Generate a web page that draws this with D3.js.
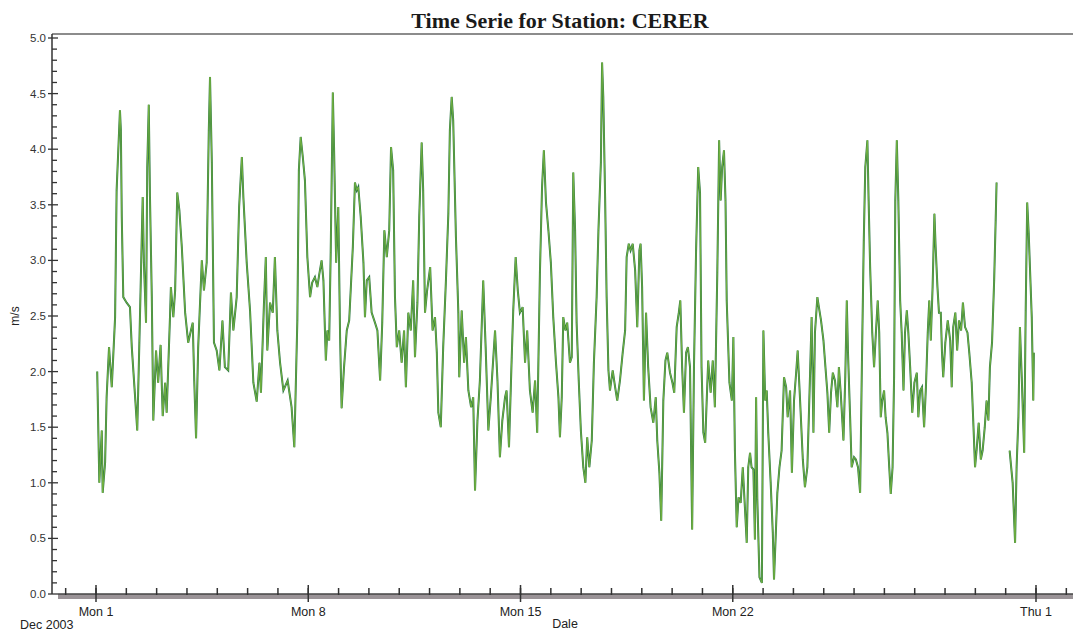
<!DOCTYPE html>
<meta charset="utf-8">
<html>
<head>
<title>Time Serie for Station: CERER</title>
<script src="https://d3js.org/d3.v7.min.js"></script>
<style>
    body {
        margin: 0;
        background: #fff;
        font-family: "Liberation Sans", Arial, sans-serif;
    }
</style>
</head>
<body>
<svg id="chart"></svg>
<script>

var width = 1073
var height = 632

// readings, days after 1 Dec 2003 00:00 UTC, and wind speed in m/s (null = gap)
var days = [
    0.04, 0.11, 0.19, 0.22, 0.30, 0.35, 0.43, 0.52, 0.63, 0.68, 0.79, 0.82, 0.85, 0.90, 1.01, 1.12, 1.18, 1.29, 1.36, 1.43,
    1.54, 1.58, 1.65, 1.69, 1.74, 1.78, 1.84, 1.89, 1.98, 2.05, 2.13, 2.20, 2.28, 2.33, 2.44, 2.47, 2.55, 2.61, 2.68, 2.75,
    2.83, 2.94, 3.04, 3.13, 3.19, 3.24, 3.30, 3.37, 3.49, 3.56, 3.65, 3.72, 3.76, 3.82, 3.89, 3.98, 4.07, 4.17, 4.25, 4.36,
    4.45, 4.53, 4.64, 4.72, 4.81, 4.86, 4.97, 5.08, 5.19, 5.30, 5.39, 5.44, 5.54, 5.60, 5.65, 5.74, 5.83, 5.90, 5.98, 6.07,
    6.18, 6.32, 6.45, 6.54, 6.64, 6.69, 6.75, 6.82, 6.89, 6.97, 7.06, 7.13, 7.22, 7.30, 7.36, 7.44, 7.50, 7.58, 7.63, 7.69,
    7.74, 7.81, 7.85, 7.92, 7.99, 8.05, 8.10, 8.18, 8.27, 8.35, 8.47, 8.54, 8.60, 8.65, 8.73, 8.82, 8.87, 8.93, 9.01, 9.09,
    9.20, 9.28, 9.37, 9.44, 9.51, 9.59, 9.67, 9.73, 9.80, 9.86, 9.92, 10.00, 10.08, 10.16, 10.22, 10.30, 10.38, 10.46, 10.52, 10.60,
    10.66, 10.74, 10.79, 10.85, 10.92, 11.02, 11.10, 11.18, 11.24, 11.29, 11.37, 11.45, 11.54, 11.62, 11.67, 11.73, 11.78, 11.87, 11.95, 11.98,
    12.06, 12.14, 12.20, 12.28, 12.37, 12.44, 12.50, 12.58, 12.66, 12.77, 12.85, 12.94, 13.02, 13.16, 13.24, 13.32, 13.40, 13.49, 13.54, 13.62,
    13.71, 13.76, 13.84, 13.91, 13.98, 14.07, 14.15, 14.22, 14.31, 14.40, 14.48, 14.55, 14.64, 14.71, 14.77, 14.84, 14.92, 15.00, 15.08, 15.17,
    15.25, 15.30, 15.36, 15.41, 15.48, 15.54, 15.63, 15.69, 15.74, 15.80, 15.85, 15.92, 15.99, 16.07, 16.14, 16.20, 16.27, 16.35, 16.42, 16.51,
    16.57, 16.65, 16.69, 16.73, 16.79, 16.84, 16.90, 16.95, 17.04, 17.12, 17.19, 17.28, 17.37, 17.45, 17.50, 17.57, 17.63, 17.70, 17.78, 17.85,
    17.92, 17.96, 18.01, 18.07, 18.14, 18.21, 18.29, 18.38, 18.46, 18.51, 18.58, 18.64, 18.71, 18.78, 18.84, 18.93, 19.01, 19.07, 19.15, 19.22,
    19.27, 19.33, 19.39, 19.46, 19.52, 19.59, 19.66, 19.72, 19.79, 19.86, 19.92, 19.97, 20.03, 20.09, 20.14, 20.19, 20.27, 20.34, 20.41, 20.49,
    20.55, 20.60, 20.65, 20.71, 20.76, 20.80, 20.89, 20.97, 21.02, 21.07, 21.13, 21.19, 21.26, 21.33, 21.40, 21.46, 21.51, 21.57, 21.62, 21.68,
    21.73, 21.77, 21.81, 21.88, 21.96, 22.01, 22.07, 22.12, 22.17, 22.25, 22.32, 22.36, 22.42, 22.47, 22.54, 22.61, 22.69, 22.76, 22.81, 22.89,
    22.95, 23.02, 23.09, 23.14, 23.22, 23.31, 23.38, 23.46, 23.55, 23.60, 23.66, 23.71, 23.79, 23.84, 23.91, 23.99, 24.07, 24.12, 24.18, 24.24,
    24.30, 24.37, 24.45, 24.50, 24.56, 24.65, 24.71, 24.76, 24.80, 24.87, 24.92, 25.00, 25.06, 25.13, 25.20, 25.26, 25.32, 25.37, 25.44, 25.48,
    25.53, 25.60, 25.66, 25.72, 25.78, 25.83, 25.88, 25.93, 25.99, 26.04, 26.10, 26.16, 26.21, 26.27, 26.32, 26.36, 26.41, 26.46, 26.52, 26.57,
    26.63, 26.68, 26.74, 26.79, 26.85, 26.92, 26.99, 27.07, 27.12, 27.18, 27.24, 27.31, 27.37, 27.43, 27.48, 27.53, 27.59, 27.65, 27.69, 27.75,
    27.80, 27.86, 27.90, 27.94, 28.01, 28.09, 28.17, 28.22, 28.27, 28.34, 28.40, 28.46, 28.53, 28.59, 28.66, 28.74, 28.80, 28.88, 28.93, 28.99,
    29.04, 29.11, 29.18, 29.24, 29.31, 29.37, 29.43, 29.48, 29.55, 29.62, 29.67, 29.70, 29.90, 30.13, 30.23, 30.31, 30.36, 30.42, 30.47, 30.53,
    30.61, 30.66, 30.71, 30.76, 30.80, 30.86, 30.91, 30.93
]
var speed = [
    2.00, 1.00, 1.47, 0.91, 1.18, 1.77, 2.22, 1.86, 2.49, 3.63, 4.35, 4.17, 3.39, 2.67, 2.62, 2.58, 2.22, 1.77, 1.47, 2.26,
    3.57, 2.98, 2.44, 3.84, 4.40, 3.57, 2.67, 1.56, 2.19, 1.90, 2.24, 1.60, 1.90, 1.63, 2.49, 2.76, 2.49, 2.73, 3.61, 3.45,
    3.12, 2.53, 2.26, 2.37, 2.44, 1.92, 1.40, 2.22, 3.00, 2.73, 2.98, 4.17, 4.65, 3.88, 2.26, 2.19, 2.01, 2.46, 2.04, 2.01,
    2.71, 2.37, 2.67, 3.48, 3.93, 3.57, 2.98, 2.55, 1.90, 1.73, 2.08, 1.81, 2.62, 3.03, 2.19, 2.62, 2.53, 3.03, 2.37, 2.08,
    1.83, 1.92, 1.68, 1.32, 2.46, 3.81, 4.11, 3.93, 3.72, 3.03, 2.67, 2.80, 2.85, 2.76, 2.87, 3.00, 2.82, 2.10, 2.37, 2.28,
    3.07, 4.51, 4.02, 2.98, 3.48, 2.31, 1.67, 2.04, 2.37, 2.46, 3.12, 3.70, 3.63, 3.66, 3.39, 2.98, 2.49, 2.82, 2.85, 2.53,
    2.44, 2.37, 1.92, 2.44, 3.27, 3.03, 3.27, 4.02, 3.81, 2.67, 2.22, 2.37, 2.08, 2.37, 1.86, 2.53, 2.37, 2.82, 2.13, 2.62,
    3.39, 4.06, 3.63, 2.53, 2.73, 2.94, 2.37, 2.49, 2.17, 1.63, 1.50, 2.22, 2.82, 3.42, 4.17, 4.47, 4.26, 3.21, 2.53, 1.95,
    2.55, 2.08, 2.31, 1.83, 1.68, 1.77, 0.93, 1.56, 1.92, 2.82, 2.22, 1.47, 1.77, 2.37, 1.92, 1.23, 1.56, 1.77, 1.83, 1.32,
    2.13, 2.55, 3.03, 2.73, 2.53, 2.58, 2.08, 2.37, 1.83, 1.63, 1.92, 1.45, 2.89, 3.66, 3.99, 3.52, 3.27, 2.98, 2.49, 2.08,
    1.77, 1.41, 1.77, 2.49, 2.37, 2.44, 2.08, 2.13, 3.79, 3.27, 2.44, 1.92, 1.47, 1.14, 1.00, 1.41, 1.14, 1.38, 2.08, 2.67,
    3.27, 3.88, 4.78, 4.47, 3.57, 2.67, 2.01, 1.83, 2.01, 1.86, 1.74, 1.92, 2.17, 2.37, 3.03, 3.15, 3.09, 3.15, 2.91, 2.40,
    3.09, 3.15, 2.76, 1.74, 2.53, 2.04, 1.68, 1.54, 1.77, 1.38, 1.09, 0.66, 1.74, 2.10, 2.17, 1.99, 1.90, 1.81, 2.40, 2.53,
    2.64, 2.04, 1.63, 2.17, 2.22, 2.04, 0.58, 2.04, 3.09, 3.84, 3.61, 2.04, 1.45, 1.36, 1.74, 2.10, 1.81, 2.10, 1.68, 2.89,
    4.08, 3.54, 3.84, 3.99, 3.54, 2.64, 1.90, 1.74, 2.31, 1.29, 0.60, 0.87, 0.82, 1.14, 0.78, 0.46, 1.14, 1.27, 1.14, 1.12,
    0.49, 1.77, 0.85, 0.15, 0.10, 2.37, 1.74, 1.83, 1.45, 1.00, 0.55, 0.13, 0.55, 0.91, 1.14, 1.29, 1.95, 1.86, 1.59, 1.83,
    1.09, 1.74, 1.99, 2.19, 1.74, 1.21, 0.96, 1.14, 1.99, 2.49, 1.45, 2.35, 2.67, 2.58, 2.46, 2.28, 1.99, 1.81, 1.45, 1.81,
    1.99, 1.92, 1.68, 2.04, 1.81, 1.38, 1.95, 2.64, 2.17, 1.59, 1.14, 1.23, 1.21, 1.14, 0.91, 2.10, 3.18, 3.84, 4.08, 3.54,
    2.94, 2.35, 2.04, 2.35, 2.64, 2.35, 1.59, 1.74, 1.83, 1.59, 1.45, 1.14, 0.90, 1.14, 1.95, 3.54, 4.08, 3.54, 2.64, 2.35,
    1.83, 2.35, 2.55, 2.35, 2.04, 1.63, 1.90, 1.99, 1.59, 1.83, 1.86, 1.50, 1.86, 2.35, 2.64, 2.28, 2.76, 3.42, 3.12, 2.76,
    2.53, 2.53, 2.17, 1.95, 2.26, 2.46, 2.28, 1.86, 2.40, 2.53, 2.19, 2.46, 2.37, 2.62, 2.40, 2.35, 2.17, 1.90, 1.56, 1.14,
    1.29, 1.54, 1.21, 1.29, 1.50, 1.74, 1.56, 2.04, 2.26, 2.82, 3.36, 3.70, null, 1.29, 1.00, 0.46, 1.14, 1.59, 2.40, 1.95,
    1.27, 2.55, 3.52, 3.24, 2.94, 2.49, 1.74, 2.17
]

var yTicks = [0.0, 0.5, 1.0, 1.5, 2.0, 2.5, 3.0, 3.5, 4.0, 4.5, 5.0]
var majorDays = [0, 7, 14, 21, 31]   // Mon 1, Mon 8, Mon 15, Mon 22, Thu 1
var title = "Time Serie for Station: CERER"

var start = Date.UTC(2003, 11, 1)
var DAY = 86400000
var data = days.map((d, i) => ({date: new Date(start + d * DAY), v: speed[i]}))

var svg = d3.select("#chart")
    .attr("width", width)
    .attr("height", height)

var x = d3.scaleUtc()
    .domain([new Date(start), new Date(start + 31 * DAY)])
    .range([96, 1036])

var y = d3.scaleLinear()
    .domain([0, 5])
    .range([594, 38])

var axisLeft = 52
var xAxisLeft = 58

// title
svg.append("text")
    .attr("x", 560)
    .attr("y", 28)
    .attr("text-anchor", "middle")
    .style("font-family", "'Liberation Serif', 'Times New Roman', serif")
    .style("font-size", "22px")
    .style("font-weight", "bold")
    .style("fill", "#1a1a1a")
    .text(title)

// top frame line
svg.append("line")
    .attr("x1", axisLeft).attr("x2", width)
    .attr("y1", 34).attr("y2", 34)
    .style("stroke", "#666")
    .style("stroke-width", 1.6)

// y axis
var yg = svg.append("g")
yg.append("line")
    .attr("x1", axisLeft).attr("x2", axisLeft)
    .attr("y1", 34).attr("y2", y(0))
    .style("stroke", "#333")
    .style("stroke-width", 1.5)

var minor = d3.range(0, 50).map(i => i / 10).filter(v => Math.round(v * 10) % 5 != 0)
yg.selectAll(".ymin")
    .data(minor)
    .enter()
    .append("line")
    .attr("x1", axisLeft).attr("x2", axisLeft + 5)
    .attr("y1", d => y(d)).attr("y2", d => y(d))
    .style("stroke", "#333")
    .style("stroke-width", 1.3)

yg.selectAll(".ymaj")
    .data(yTicks)
    .enter()
    .append("line")
    .attr("x1", axisLeft - 4).attr("x2", axisLeft + 6)
    .attr("y1", d => y(d)).attr("y2", d => y(d))
    .style("stroke", "#333")
    .style("stroke-width", 1.3)

yg.selectAll(".ylab")
    .data(yTicks)
    .enter()
    .append("text")
    .attr("x", axisLeft - 6)
    .attr("y", d => y(d) + 4)
    .attr("text-anchor", "end")
    .style("font-size", "11.5px")
    .style("fill", "#333")
    .text(d => d3.format(".1f")(d))

svg.append("text")
    .attr("transform", "translate(19," + y(2.5) + ") rotate(-90)")
    .attr("text-anchor", "middle")
    .style("font-size", "12px")
    .style("fill", "#222")
    .text("m/s")

// x axis band
svg.append("rect")
    .attr("x", xAxisLeft).attr("y", y(0))
    .attr("width", width - xAxisLeft).attr("height", 5)
    .style("fill", "#9a9397")
svg.append("line")
    .attr("x1", xAxisLeft).attr("x2", width)
    .attr("y1", y(0)).attr("y2", y(0))
    .style("stroke", "#444")
    .style("stroke-width", 1.4)

var dayTicks = d3.utcDay.range(x.invert(xAxisLeft), x.invert(width))
svg.selectAll(".xmin")
    .data(dayTicks)
    .enter()
    .append("line")
    .attr("x1", d => x(d)).attr("x2", d => x(d))
    .attr("y1", y(0) - 6).attr("y2", y(0) + 1)
    .style("stroke", "#333")
    .style("stroke-width", 1.5)

var majors = majorDays.map(d => new Date(start + d * DAY))
svg.selectAll(".xmaj")
    .data(majors)
    .enter()
    .append("line")
    .attr("x1", d => x(d)).attr("x2", d => x(d))
    .attr("y1", y(0) - 9).attr("y2", y(0) + 8)
    .style("stroke", "#333")
    .style("stroke-width", 1.5)

svg.selectAll(".xlab")
    .data(majors)
    .enter()
    .append("text")
    .attr("x", d => x(d))
    .attr("y", 616)
    .attr("text-anchor", "middle")
    .style("font-size", "12.5px")
    .style("fill", "#222")
    .text(d3.utcFormat("%a %-d"))

svg.append("text")
    .attr("x", 20)
    .attr("y", 629)
    .style("font-size", "12.5px")
    .style("fill", "#222")
    .text("Dec 2003")

svg.append("text")
    .attr("x", 565)
    .attr("y", 628)
    .attr("text-anchor", "middle")
    .style("font-size", "12.5px")
    .style("fill", "#222")
    .text("Dale")

// series
var line = d3.line()
    .defined(d => d.v != null)
    .x(d => x(d.date))
    .y(d => y(d.v))

svg.append("path")
    .datum(data)
    .attr("d", line)
    .style("fill", "none")
    .style("stroke", "#2f7a45")
    .style("stroke-width", 2)

svg.append("path")
    .datum(data)
    .attr("d", line)
    .style("fill", "none")
    .style("stroke", "#7bb83f")
    .style("stroke-width", 0.9)

</script>
</body>
</html>
